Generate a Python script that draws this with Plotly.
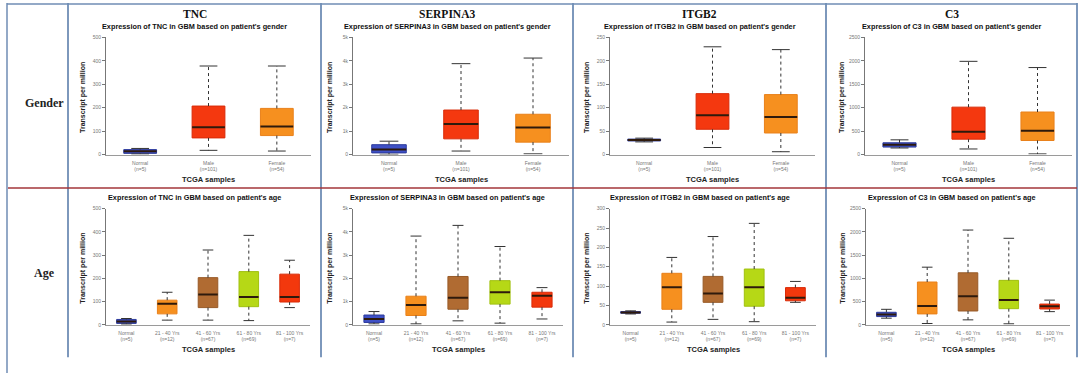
import plotly.graph_objects as go

# ---------------- data ----------------
genes = ["TNC", "SERPINA3", "ITGB2", "C3"]
gender_labels = ["Normal<br>(n=5)", "Male<br>(n=101)", "Female<br>(n=54)"]
age_labels = ["Normal<br>(n=5)", "21 - 40 Yrs<br>(n=12)", "41 - 60 Yrs<br>(n=67)",
              "61 - 80 Yrs<br>(n=69)", "81 - 100 Yrs<br>(n=7)"]

# gender (Normal, Male, Female)
tnc_g_min = [2, 18, 15]
tnc_g_q1 = [5, 71, 81]
tnc_g_med = [14, 116, 120]
tnc_g_q3 = [21, 207, 197]
tnc_g_max = [26, 378, 378]

serp_g_min = [10, 150, 30]
serp_g_q1 = [70, 670, 530]
serp_g_med = [220, 1300, 1150]
serp_g_q3 = [420, 1900, 1720]
serp_g_max = [570, 3880, 4120]

itgb2_g_min = [27, 15, 6]
itgb2_g_q1 = [29, 54, 46]
itgb2_g_med = [31, 84, 80]
itgb2_g_q3 = [33, 130, 128]
itgb2_g_max = [35, 230, 224]

c3_g_min = [140, 119, 14]
c3_g_q1 = [160, 328, 300]
c3_g_med = [210, 489, 510]
c3_g_q3 = [251, 1012, 908]
c3_g_max = [314, 1990, 1857]

# age (Normal, 21-40, 41-60, 61-80, 81-100)
tnc_a_min = [3, 20, 20, 18, 74]
tnc_a_q1 = [6, 47, 74, 78, 98]
tnc_a_med = [14, 91, 130, 120, 120]
tnc_a_q3 = [23, 106, 203, 229, 218]
tnc_a_max = [27, 140, 322, 385, 278]

serp_a_min = [40, 40, 170, 70, 250]
serp_a_q1 = [100, 400, 670, 890, 760]
serp_a_med = [250, 850, 1160, 1400, 1250]
serp_a_q3 = [420, 1230, 2080, 1900, 1400]
serp_a_max = [570, 3820, 4280, 3370, 1600]

itgb2_a_min = [28, 7, 14, 8, 58]
itgb2_a_q1 = [30, 40, 58, 48, 62]
itgb2_a_med = [32, 97, 81, 97, 70]
itgb2_a_q3 = [34, 133, 125, 144, 96]
itgb2_a_max = [36, 174, 228, 262, 112]

c3_a_min = [142, 28, 106, 21, 283]
c3_a_q1 = [177, 234, 297, 347, 340]
c3_a_med = [220, 404, 616, 531, 397]
c3_a_q3 = [269, 921, 1119, 956, 446]
c3_a_max = [333, 1240, 2040, 1862, 531]

gender_colors = ["#3f51c6", "#f4380f", "#f6901f"]
gender_edges = ["#2c3a9c", "#d92b08", "#e9801a"]
age_colors = ["#3f51c6", "#f6901f", "#b06b32", "#b6d816", "#f3380d"]
age_edges = ["#2c3a9c", "#e9801a", "#985a27", "#a0c010", "#d92b08"]

y_max_gender = [500, 5000, 250, 2500]
y_max_age = [500, 5000, 300, 2500]
y_step_gender = [100, 1000, 50, 500]
y_step_age = [100, 1000, 50, 500]

gender_stats = [
    (tnc_g_min, tnc_g_q1, tnc_g_med, tnc_g_q3, tnc_g_max),
    (serp_g_min, serp_g_q1, serp_g_med, serp_g_q3, serp_g_max),
    (itgb2_g_min, itgb2_g_q1, itgb2_g_med, itgb2_g_q3, itgb2_g_max),
    (c3_g_min, c3_g_q1, c3_g_med, c3_g_q3, c3_g_max),
]
age_stats = [
    (tnc_a_min, tnc_a_q1, tnc_a_med, tnc_a_q3, tnc_a_max),
    (serp_a_min, serp_a_q1, serp_a_med, serp_a_q3, serp_a_max),
    (itgb2_a_min, itgb2_a_q1, itgb2_a_med, itgb2_a_q3, itgb2_a_max),
    (c3_a_min, c3_a_q1, c3_a_med, c3_a_q3, c3_a_max),
]

# ---------------- layout geometry (pixels) ----------------
W, H = 1081, 376
col_bounds = [68, 321, 573, 826, 1077]
top_x = [(106, 311), (353, 569), (610, 815), (865, 1072)]
bot_x = [(106, 310), (353, 563), (610, 816), (866, 1070)]
top_y = (35, 154)
bot_y = (209, 327)

BOX_W = 0.48
CAP_W = 0.26


def px(x):
    return x / W


def py(y):
    return 1 - y / H


fig = go.Figure()
layout = dict(
    width=W, height=H, margin=dict(l=0, r=0, t=0, b=0),
    paper_bgcolor="white", plot_bgcolor="white", showlegend=False,
    font=dict(family="Liberation Sans, Arial, sans-serif", color="#222"),
)
annotations = []
shapes = []


def add_panel(k, col, stats, labels, colors, edges, xdom, ydom, ymax, ystep, subtitle, tickfmt):
    mn, q1, med, q3, mx = stats
    n = len(labels)
    xs = list(range(n))
    xa = "x" if k == 1 else f"x{k}"
    ya = "y" if k == 1 else f"y{k}"
    # boxes
    fig.add_trace(go.Bar(
        x=xs, y=[b - a for a, b in zip(q1, q3)], base=q1, width=BOX_W,
        marker=dict(color=colors, line=dict(color=edges, width=1)),
        xaxis=xa, yaxis=ya, hoverinfo="skip"))
    # whiskers (dotted)
    wx, wy = [], []
    for i in xs:
        wx += [i, i, None, i, i, None]
        wy += [q3[i], mx[i], None, q1[i], mn[i], None]
    fig.add_trace(go.Scatter(x=wx, y=wy, mode="lines",
                             line=dict(color="#333", width=1, dash="dot"),
                             xaxis=xa, yaxis=ya, hoverinfo="skip"))
    # caps
    cx, cy = [], []
    for i in xs:
        cx += [i - CAP_W / 2, i + CAP_W / 2, None, i - CAP_W / 2, i + CAP_W / 2, None]
        cy += [mx[i], mx[i], None, mn[i], mn[i], None]
    fig.add_trace(go.Scatter(x=cx, y=cy, mode="lines",
                             line=dict(color="#333", width=1),
                             xaxis=xa, yaxis=ya, hoverinfo="skip"))
    # medians
    mxs, mys = [], []
    for i in xs:
        mxs += [i - BOX_W / 2, i + BOX_W / 2, None]
        mys += [med[i], med[i], None]
    fig.add_trace(go.Scatter(x=mxs, y=mys, mode="lines",
                             line=dict(color="#2e1a0c", width=2),
                             xaxis=xa, yaxis=ya, hoverinfo="skip"))

    xkey = "xaxis" if k == 1 else f"xaxis{k}"
    ykey = "yaxis" if k == 1 else f"yaxis{k}"
    layout[xkey] = dict(
        domain=[px(xdom[0]), px(xdom[1])], anchor=ya, range=[-0.5, n - 0.5],
        tickmode="array", tickvals=xs, ticktext=labels, showgrid=False, zeroline=False,
        showline=True, linecolor="#9a9a9a", linewidth=1, ticks="",
        tickfont=dict(size=5, color="#777"), ticklabelstandoff=3, fixedrange=True)
    layout[ykey] = dict(
        domain=[py(ydom[1]), py(ydom[0])], anchor=xa, range=[0, ymax],
        tickmode="linear", tick0=0, dtick=ystep, tickformat=tickfmt,
        showgrid=False, zeroline=False, showline=True, linecolor="#777", linewidth=1,
        ticks="outside", ticklen=3, tickcolor="#777",
        tickfont=dict(size=5, color="#777"), fixedrange=True)
    # subtitle (centred on its column)
    ccol = (col_bounds[col] + col_bounds[col + 1]) / 2
    annotations.append(dict(
        text=subtitle, x=px(ccol), y=py(ydom[0] - 11), xref="paper", yref="paper",
        showarrow=False, xanchor="center", yanchor="middle",
        font=dict(size=7.3, color="#111", family="Liberation Sans, Arial, sans-serif")))
    # x axis title
    cxm = (xdom[0] + xdom[1]) / 2
    annotations.append(dict(
        text="<b>TCGA samples</b>", x=px(cxm), y=py(ydom[1] + 25), xref="paper",
        yref="paper", showarrow=False, xanchor="center", yanchor="middle",
        font=dict(size=7.5, color="#222")))
    # y axis title
    annotations.append(dict(
        text="<b>Transcript per million</b>", x=px(xdom[0] - 23),
        y=py((ydom[0] + ydom[1]) / 2 + 2), xref="paper", yref="paper",
        showarrow=False, xanchor="center", yanchor="middle", textangle=-90,
        font=dict(size=7, color="#222")))


k = 1
for g in range(4):
    fmt = "~s" if genes[g] == "SERPINA3" else "d"
    add_panel(k, g, gender_stats[g], gender_labels, gender_colors, gender_edges,
              top_x[g], top_y, y_max_gender[g], y_step_gender[g],
              f"<b>Expression of {genes[g]} in GBM based on patient's gender</b>", fmt)
    k += 1
for g in range(4):
    fmt = "~s" if genes[g] == "SERPINA3" else "d"
    add_panel(k, g, age_stats[g], age_labels, age_colors, age_edges,
              bot_x[g], bot_y, y_max_age[g], y_step_age[g],
              f"<b>Expression of {genes[g]} in GBM based on patient's age</b>", fmt)
    k += 1

# gene titles
for g in range(4):
    cx = (col_bounds[g] + col_bounds[g + 1]) / 2
    annotations.append(dict(
        text=f"<b>{genes[g]}</b>", x=px(cx), y=py(11), xref="paper", yref="paper",
        showarrow=False, xanchor="center", yanchor="middle",
        font=dict(size=11.5, color="#111", family="Liberation Serif, Times New Roman, serif")))

# row labels
for lab, yy in [("Gender", 102), ("Age", 274)]:
    annotations.append(dict(
        text=f"<b>{lab}</b>", x=px(44), y=py(yy), xref="paper", yref="paper",
        showarrow=False, xanchor="center", yanchor="middle",
        font=dict(size=12, color="#222", family="Liberation Serif, Times New Roman, serif")))

# frame lines
blue = "#6f8db5"
shapes.append(dict(type="line", xref="paper", yref="paper", x0=px(7), x1=px(7),
                   y0=py(0), y1=py(376), line=dict(color=blue, width=1.5)))
shapes.append(dict(type="line", xref="paper", yref="paper", x0=px(7), x1=px(1077),
                   y0=py(1), y1=py(1), line=dict(color=blue, width=1.5)))
for xb in col_bounds:
    shapes.append(dict(type="line", xref="paper", yref="paper", x0=px(xb), x1=px(xb),
                       y0=py(0), y1=py(360), line=dict(color=blue, width=1.8)))
shapes.append(dict(type="line", xref="paper", yref="paper", x0=px(8), x1=px(1077),
                   y0=py(188), y1=py(188), line=dict(color="#a3363a", width=1.5)))

layout["annotations"] = annotations
layout["shapes"] = shapes
fig.update_layout(**layout)

fig.write_html("out.html", config={"displayModeBar": False},
               post_script="document.body.style.margin='0';")
